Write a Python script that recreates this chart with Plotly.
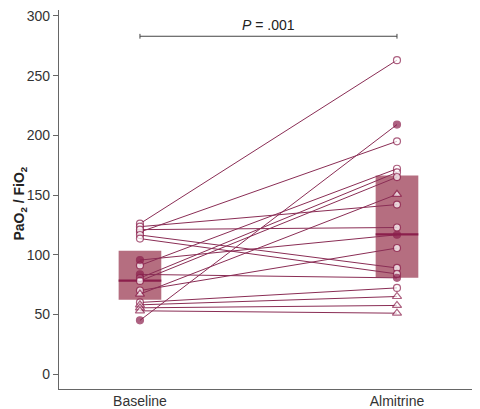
import plotly.graph_objects as go

# PaO2/FiO2 per patient, baseline -> almitrine
baseline = [126, 119, 123.5, 121, 116.5, 113.5, 91, 80.5, 78, 70, 60,
            45, 95.5, 83.5, 67, 58, 55.5, 53]
almitrine = [263, 195, 142, 122.8, 88.9, 83.9, 172, 169, 165, 105.6, 72.2,
             209, 116.7, 80.6, 150.6, 65, 57.5, 51]
# o = open circle, f = filled circle, t = open triangle
kind = ['o'] * 11 + ['f'] * 3 + ['t'] * 4

groups = ['Baseline', 'Almitrine']
q1 = [62.2, 80.8]
median = [78.3, 117]
q3 = [103.3, 166.4]

p_text = '<i>P</i> = .001'
bracket_y = 283

dark = '#8b1f4c'
line_col = '#8a2d55'
box_col = '#b56e80'
axis_col = '#666666'
box_w = 0.166

fig = go.Figure()

# IQR boxes
fig.add_trace(go.Bar(x=[0, 1], base=q1, y=[b - a for a, b in zip(q1, q3)],
                     width=box_w, marker=dict(color=box_col, line=dict(width=0)),
                     hoverinfo='skip'))

# patient lines
lx, ly = [], []
for b, a in zip(baseline, almitrine):
    lx += [0, 1, None]
    ly += [b, a, None]
fig.add_trace(go.Scatter(x=lx, y=ly, mode='lines',
                         line=dict(color=line_col, width=1)))

# median lines
for i, m in enumerate(median):
    fig.add_trace(go.Scatter(x=[i - box_w / 2, i + box_w / 2], y=[m, m], mode='lines',
                             line=dict(color=dark, width=2.2)))

# markers
sym = {'o': 'circle', 'f': 'circle', 't': 'triangle-up'}
for i, vals in enumerate([baseline, almitrine]):
    fig.add_trace(go.Scatter(
        x=[i] * len(vals), y=vals, mode='markers',
        marker=dict(symbol=[sym[k] for k in kind],
                    size=[8 if k == 't' else 7 for k in kind],
                    color=[dark if k == 'f' else 'white' for k in kind],
                    line=dict(color=dark, width=1.2))))

# significance bracket
fig.add_shape(type='line', x0=0, x1=1, y0=bracket_y, y1=bracket_y,
              line=dict(color='#444444', width=1))
for xe in [0, 1]:
    fig.add_shape(type='line', x0=xe, x1=xe, y0=bracket_y - 2, y1=bracket_y + 2,
                  line=dict(color='#444444', width=1))
fig.add_annotation(x=0.5, y=bracket_y + 9.5, text=p_text, showarrow=False,
                   font=dict(size=14, color='#222222'))

fig.add_annotation(xref='paper', yref='paper', x=-0.118, y=0.49,
                   text='<b>PaO<sub>2</sub> / FiO<sub>2</sub></b>', textangle=-90,
                   showarrow=False, font=dict(size=14, color='#222222'))

# page body has an 8px margin, so the figure is drawn 8px smaller and shifted
fig.update_layout(
    width=472, height=401,
    margin=dict(l=51, r=0, t=0, b=20),
    paper_bgcolor='white', plot_bgcolor='white',
    showlegend=False,
    font=dict(family='Liberation Sans, Arial, sans-serif', size=14, color='#333333'),
    xaxis=dict(range=[-0.315, 1.323], tickvals=[0, 1], ticktext=groups,
               showgrid=False, zeroline=False, showline=True, linecolor=axis_col,
               linewidth=1.2, ticks='', ticklabelstandoff=-1),
    yaxis=dict(range=[-12.5, 305], tickvals=[0, 50, 100, 150, 200, 250, 300],
               showgrid=False, zeroline=False, showline=True, linecolor=axis_col,
               linewidth=1.2, ticks='outside', ticklen=5, tickcolor=axis_col,
               ticklabeloverflow='allow'),
)

fig.write_html('out.html')
